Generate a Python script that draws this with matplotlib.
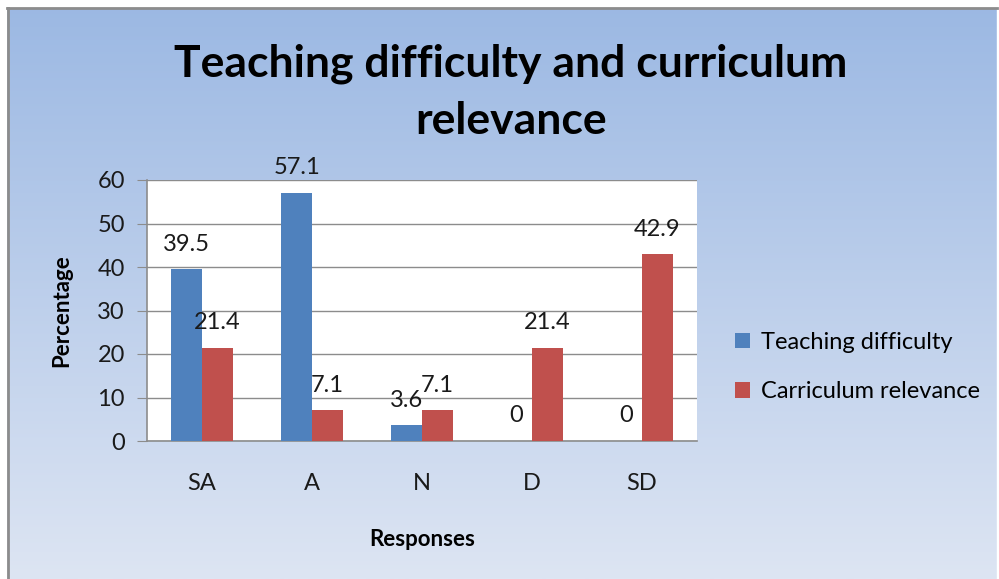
import numpy as np
import matplotlib
matplotlib.use("Agg")
from matplotlib import pyplot as plt
from matplotlib.patches import Rectangle

categories = ["SA", "A", "N", "D", "SD"]
teaching = [39.5, 57.1, 3.6, 0, 0]
curriculum = [21.4, 7.1, 7.1, 21.4, 42.9]
series_names = ["Teaching difficulty", "Carriculum relevance"]

blue = "#4F81BD"
red = "#C0504D"
plt.rcParams['font.family'] = ['Lato', 'DejaVu Sans']

fig = plt.figure(figsize=(9.99, 5.79), dpi=100)
fig.patch.set_facecolor("white")

# gradient background of the chart frame
bg = fig.add_axes([0, 0, 1, 1], zorder=-10)
grad = np.linspace(0, 1, 256).reshape(-1, 1)
top = np.array([155, 184, 227]) / 255
bot = np.array([221, 229, 243]) / 255
img = top + (bot - top) * grad[..., None]
bg.imshow(img, aspect="auto", extent=[0, 1, 0, 1], origin="upper")
bg.set_xlim(0, 1)
bg.set_ylim(0, 1)
bg.axis("off")
# white margins and grey border, top and left
W, H = 999, 579
bg.add_patch(Rectangle((0, 1 - 7 / H), 1, 7 / H, color="white", zorder=2))
bg.add_patch(Rectangle((0, 0), 6 / W, 1, color="white", zorder=2))
bg.add_patch(Rectangle((997 / W, 0), 2 / W, 1, color="white", zorder=2))
bg.plot([7 / W, 997 / W], [1 - 8 / H, 1 - 8 / H], color="#8c8c8c", lw=2, zorder=3)
bg.plot([7.5 / W, 7.5 / W], [0, 1 - 8 / H], color="#8c8c8c", lw=2, zorder=3)

ax = fig.add_axes([147 / W, 1 - 441 / H, 550 / W, 261 / H])
ax.set_facecolor("white")
x = np.arange(len(categories))
bw = 0.28
b1 = ax.bar(x - bw / 2, teaching, bw, color=blue, label=series_names[0], zorder=3)
b2 = ax.bar(x + bw / 2, curriculum, bw, color=red, label=series_names[1], zorder=3)

for bars, vals in ((b1, teaching), (b2, curriculum)):
    for r, v in zip(bars, vals):
        ax.annotate(f"{v:g}", (r.get_x() + r.get_width() / 2, v),
                    xytext=(0, 18), textcoords="offset points",
                    ha="center", va="center", fontsize=17, color="#1a1a1a")

ax.set_xlim(-0.5, 4.5)
ax.set_ylim(0, 60)
ax.set_yticks(range(0, 61, 10))
ax.set_xticks(x)
ax.set_xticklabels(categories)
ax.yaxis.grid(True, color="#8c8c8c", lw=1, zorder=0)
ax.tick_params(axis="y", length=7, color="#8c8c8c", labelsize=17, pad=9, labelcolor="#1a1a1a")
ax.tick_params(axis="x", length=0, labelsize=17, pad=23, labelcolor="#1a1a1a")
for s in ("top", "right"):
    ax.spines[s].set_visible(False)
for s in ("left", "bottom"):
    ax.spines[s].set_color("#8c8c8c")
    ax.spines[s].set_linewidth(1.2)

ax.set_ylabel("Percentage", fontsize=16, fontweight="bold", labelpad=18)
ax.set_xlabel("Responses", fontsize=16, fontweight="bold", labelpad=25)

fig.text(511 / W, 1 - 92 / H, "Teaching difficulty and curriculum\nrelevance",
         ha="center", va="center", fontsize=32, fontweight="bold",
         linespacing=1.5)

ax.legend(loc="center left", bbox_to_anchor=(735 / W, 1 - 367 / H),
          bbox_transform=fig.transFigure, frameon=False, fontsize=17,
          handlelength=0.65, handleheight=0.65, handletextpad=0.45,
          labelspacing=1.2, borderpad=0, borderaxespad=0)

fig.savefig("out.png", dpi=100)
